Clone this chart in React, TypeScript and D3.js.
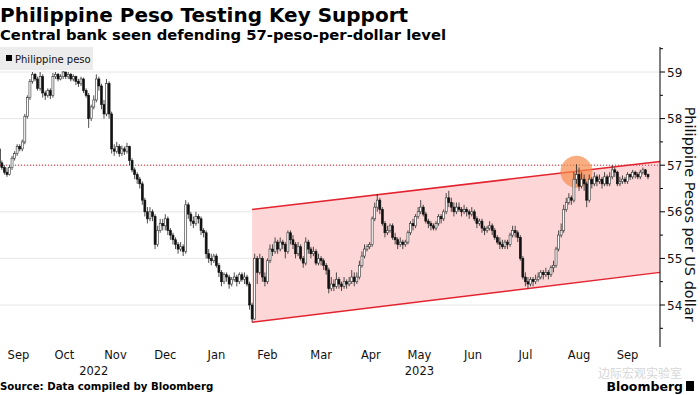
import React, { useEffect } from "react";
import * as d3 from "d3";

// ---- Data (USD/PHP daily candles) ----
const monthLabels = ["Sep", "Oct", "Nov", "Dec", "Jan", "Feb", "Mar", "Apr", "May", "Jun", "Jul", "Aug", "Sep"];
const tradingDays = [16, 20, 20, 19, 21, 19, 23, 16, 22, 20, 21, 21, 17];
const yearLabels = [
  { label: "2022", fromMonth: 0, toMonth: 4 },
  { label: "2023", fromMonth: 4, toMonth: 13 },
];
const yTicks = [54, 55, 56, 57, 58, 59];
const supportLevel = 57;
const firstOpen = 57.35;

const close = [
  // Sep 2022
  57.05, 56.95, 56.85, 56.8, 56.95, 57.15, 57.25, 57.4, 57.35, 57.5, 58.05, 58.45, 58.8, 58.95, 58.85, 58.65,
  // Oct
  58.9, 58.55, 58.5, 58.6, 58.5, 58.9, 58.95, 58.85, 58.9, 59.0, 58.9, 58.95, 58.85, 58.9, 58.8, 58.75, 58.85, 58.6, 58.5, 58.0,
  // Nov
  58.25, 58.4, 58.85, 58.7, 58.3, 58.1, 58.75, 58.1, 57.35, 57.3, 57.4, 57.25, 57.35, 57.3, 57.4, 57.1, 56.9, 56.8, 56.7, 56.6,
  // Dec
  56.25, 56.0, 55.85, 56.0, 55.9, 55.3, 55.6, 55.75, 55.7, 55.85, 55.6, 55.5, 55.4, 55.3, 55.2, 55.25, 55.15, 56.15, 55.95,
  // Jan 2023
  55.8, 55.75, 55.9, 55.85, 55.6, 55.55, 55.1, 55.0, 54.95, 55.05, 54.85, 54.7, 54.5, 54.65, 54.6, 54.45, 54.55, 54.6, 54.5, 54.65, 54.55,
  // Feb
  54.6, 54.45, 54.0, 53.7, 55.0, 54.7, 55.0, 54.6, 54.5, 54.95, 55.2, 55.15, 55.35, 55.2, 55.35, 55.3, 55.15, 55.55, 55.4,
  // Mar
  55.3, 55.1, 55.25, 55.0, 54.9, 55.35, 55.2, 55.1, 55.15, 54.9, 55.0, 54.95, 54.85, 54.75, 54.35, 54.45, 54.4, 54.55, 54.45, 54.4, 54.5, 54.45, 54.5,
  // Apr
  54.6, 54.5, 54.6, 54.85, 55.05, 55.2, 55.25, 55.3, 55.85, 56.1, 56.25, 56.05, 55.75, 55.55, 55.6, 55.7,
  // May
  55.45, 55.4, 55.3, 55.35, 55.3, 55.35, 55.55, 55.75, 55.7, 55.9, 56.0, 56.1, 55.95, 55.8, 55.75, 55.7, 55.65, 55.75, 55.9, 55.85, 56.0, 56.3,
  // Jun
  56.2, 56.1, 56.0, 56.1, 56.05, 56.0, 56.05, 56.0, 55.95, 56.0, 55.85, 55.75, 55.8, 55.65, 55.6, 55.65, 55.7, 55.6, 55.45, 55.35,
  // Jul
  55.3, 55.25, 55.35, 55.3, 55.5, 55.6, 55.55, 55.45, 55.0, 54.6, 54.5, 54.45, 54.55, 54.5, 54.55, 54.6, 54.7, 54.65, 54.7, 54.65, 54.8,
  // Aug
  54.85, 55.2, 55.5, 55.6, 56.05, 56.2, 56.3, 56.25, 56.7, 56.8, 56.55, 56.7, 56.6, 56.25, 56.7, 56.6, 56.75, 56.65, 56.7, 56.6, 56.75,
  // Sep
  56.6, 56.75, 56.9, 56.85, 56.6, 56.65, 56.7, 56.65, 56.8, 56.75, 56.85, 56.8, 56.75, 56.85, 56.9, 56.8, 56.75,
];

const high = [
  57.4, 57.1, 57.0, 56.95, 57.0, 57.2, 57.3, 57.45, 57.45, 57.55, 58.1, 58.5, 58.85, 59.0, 58.98, 58.9,
  59.0, 58.95, 58.6, 58.65, 58.65, 58.98, 59.0, 58.98, 58.95, 59.02, 59.0, 59.0, 58.98, 58.95, 58.92, 58.85, 58.9, 58.88, 58.65, 58.55,
  58.3, 58.5, 58.95, 58.9, 58.75, 58.4, 58.85, 58.8, 58.15, 57.45, 57.5, 57.45, 57.42, 57.4, 57.48, 57.42, 57.15, 56.95, 56.85, 56.75,
  56.65, 56.3, 56.1, 56.1, 56.05, 55.95, 55.7, 55.85, 55.85, 55.95, 55.9, 55.65, 55.55, 55.45, 55.35, 55.35, 55.3, 56.25, 56.2,
  56.0, 55.9, 56.0, 55.95, 55.9, 55.65, 55.6, 55.2, 55.1, 55.1, 55.1, 54.9, 54.75, 54.7, 54.7, 54.65, 54.6, 54.7, 54.65, 54.7, 54.7,
  54.7, 54.65, 54.5, 54.05, 55.1, 55.05, 55.1, 55.05, 54.7, 55.0, 55.3, 55.3, 55.45, 55.4, 55.45, 55.4, 55.35, 55.6, 55.6,
  55.5, 55.35, 55.35, 55.3, 55.05, 55.45, 55.4, 55.25, 55.25, 55.2, 55.1, 55.05, 55.0, 54.9, 54.8, 54.6, 54.55, 54.7, 54.6, 54.5, 54.6, 54.55, 54.6,
  54.75, 54.7, 54.7, 54.95, 55.15, 55.3, 55.3, 55.35, 55.9, 56.2, 56.38, 56.3, 56.1, 55.8, 55.7, 55.75,
  55.75, 55.55, 55.45, 55.45, 55.4, 55.4, 55.6, 55.8, 55.85, 55.95, 56.1, 56.25, 56.15, 56.0, 55.85, 55.8, 55.75, 55.8, 55.95, 55.95, 56.05, 56.4,
  56.45, 56.3, 56.2, 56.2, 56.2, 56.1, 56.15, 56.1, 56.05, 56.1, 56.05, 55.9, 55.85, 55.85, 55.7, 55.7, 55.8, 55.75, 55.65, 55.5,
  55.45, 55.4, 55.4, 55.4, 55.55, 55.7, 55.7, 55.6, 55.5, 55.05, 54.7, 54.6, 54.6, 54.6, 54.65, 54.7, 54.75, 54.75, 54.8, 54.75, 54.85,
  54.95, 55.25, 55.6, 55.75, 56.15, 56.3, 56.4, 56.35, 56.85, 57.02, 56.95, 56.85, 56.8, 56.65, 56.8, 56.75, 56.85, 56.8, 56.8, 56.75, 56.85,
  56.8, 56.85, 57.0, 56.95, 56.88, 56.75, 56.78, 56.75, 56.85, 56.82, 56.9, 56.88, 56.85, 56.9, 56.95, 56.92, 56.82,
];

const low = [
  57.0, 56.9, 56.8, 56.75, 56.78, 56.9, 57.1, 57.2, 57.3, 57.3, 57.45, 58.0, 58.4, 58.75, 58.8, 58.6,
  58.6, 58.45, 58.4, 58.45, 58.42, 58.45, 58.85, 58.8, 58.82, 58.85, 58.85, 58.85, 58.8, 58.8, 58.72, 58.68, 58.7, 58.55, 58.45, 57.8,
  57.95, 58.2, 58.35, 58.6, 58.2, 58.0, 58.05, 58.0, 57.25, 57.2, 57.25, 57.18, 57.2, 57.22, 57.25, 57.0, 56.85, 56.7, 56.6, 56.5,
  56.15, 55.9, 55.75, 55.8, 55.8, 55.2, 55.25, 55.55, 55.6, 55.6, 55.5, 55.4, 55.3, 55.2, 55.1, 55.15, 55.05, 55.1, 55.85,
  55.7, 55.65, 55.7, 55.75, 55.5, 55.45, 55.0, 54.9, 54.85, 54.9, 54.8, 54.6, 54.4, 54.45, 54.5, 54.35, 54.4, 54.5, 54.4, 54.45, 54.5,
  54.45, 54.4, 53.9, 53.63, 53.68, 54.45, 54.65, 54.5, 54.4, 54.45, 54.9, 55.05, 55.1, 55.1, 55.15, 55.2, 55.0, 55.1, 55.3,
  55.2, 55.0, 55.05, 54.95, 54.8, 54.85, 55.1, 55.0, 55.05, 54.85, 54.85, 54.85, 54.75, 54.65, 54.25, 54.3, 54.3, 54.35, 54.35, 54.3, 54.35, 54.35, 54.4,
  54.45, 54.4, 54.45, 54.55, 54.8, 55.0, 55.15, 55.2, 55.25, 55.8, 56.0, 55.95, 55.7, 55.45, 55.5, 55.55,
  55.4, 55.3, 55.2, 55.25, 55.2, 55.25, 55.3, 55.5, 55.6, 55.65, 55.85, 55.95, 55.9, 55.75, 55.65, 55.6, 55.6, 55.6, 55.7, 55.75, 55.8, 55.95,
  56.1, 56.0, 55.9, 55.95, 56.0, 55.9, 55.95, 55.9, 55.85, 55.9, 55.8, 55.65, 55.7, 55.55, 55.5, 55.55, 55.6, 55.5, 55.4, 55.3,
  55.2, 55.2, 55.2, 55.2, 55.25, 55.45, 55.45, 55.35, 54.95, 54.55, 54.4, 54.35, 54.4, 54.4, 54.45, 54.5, 54.55, 54.55, 54.6, 54.55, 54.6,
  54.7, 54.8, 55.15, 55.45, 55.55, 56.0, 56.15, 56.15, 56.2, 56.6, 56.45, 56.5, 56.45, 56.1, 56.2, 56.5, 56.55, 56.55, 56.6, 56.5, 56.55,
  56.55, 56.55, 56.7, 56.75, 56.55, 56.55, 56.6, 56.6, 56.6, 56.68, 56.7, 56.72, 56.7, 56.7, 56.8, 56.75, 56.7,
];

// Rising channel: drawn from the February low to the right edge
const channelStartIndex = 99;
const channelUpper = [56.05, 57.08];
const channelLower = [53.63, 54.7];
// Highlighted test of the 57 level
const highlightIndex = 226;
const highlightPrice = 56.86;

const W = 700;
const H = 395;
const axisX = 660;
const padDays = 4.2;

export default function App() {
  useEffect(() => {
    document.body.style.margin = "0";
  }, []);

  const n = close.length;
  const x = d3.scaleLinear().domain([0, n + padDays]).range([-2, axisX]);
  const y = d3.scaleLinear().domain([54, 59]).range([305, 72]);

  const monthStarts = d3.cumsum([0, ...tradingDays]);
  const candles = close.map((c, i) => ({
    i,
    o: i === 0 ? firstOpen : close[i - 1],
    c,
    h: high[i],
    l: low[i],
  }));

  const halfTicks = d3.range(53.5, 59.51, 0.5);
  const gridTop = 47;
  const gridBottom = 345;
  const bw = 2.0;
  const font = "'DejaVu Sans', Verdana, sans-serif";

  const xs = x(channelStartIndex + 0.5);
  const xe = x(n + padDays);
  const channelPoly = [
    [xs, y(channelUpper[0])],
    [xe, y(channelUpper[1])],
    [xe, y(channelLower[1])],
    [xs, y(channelLower[0])],
  ];

  return (
    <svg width={W} height={H} style={{ display: "block", background: "#fff" }} fontFamily={font}>
      {/* Title */}
      <text x={0} y={22} fontSize={20} fontWeight="bold" fill="#000">
        Philippine Peso Testing Key Support
      </text>
      <text x={0} y={40} fontSize={14.8} fontWeight="bold" fill="#000">
        Central bank seen defending 57-peso-per-dollar level
      </text>

      {/* Horizontal gridlines */}
      {yTicks.map((t) => (
        <line key={"hg" + t} x1={0} x2={axisX} y1={y(t)} y2={y(t)} stroke="#e6e6e6" strokeWidth={1} />
      ))}
      {/* Vertical month gridlines */}
      {monthStarts.slice(1, tradingDays.length).map((s, k) => (
        <line key={"vg" + k} x1={x(s)} x2={x(s)} y1={gridTop} y2={gridBottom} stroke="#e6e6e6" strokeWidth={1} />
      ))}

      {/* Legend */}
      <rect x={0} y={47} width={93} height={23} fill="#ececec" />
      <rect x={6} y={55} width={6} height={6} fill="#000" />
      <text x={15} y={62.5} fontSize={10} fill="#111">
        Philippine peso
      </text>

      {/* Channel */}
      <polygon points={channelPoly.map((p) => p.join(",")).join(" ")} fill="#fdd7d7" />
      <line x1={xs} y1={y(channelUpper[0])} x2={xe} y2={y(channelUpper[1])} stroke="#e3232f" strokeWidth={1.5} />
      <line x1={xs} y1={y(channelLower[0])} x2={xe} y2={y(channelLower[1])} stroke="#e3232f" strokeWidth={1.5} />

      {/* 57 support dotted line */}
      <line
        x1={0}
        x2={axisX}
        y1={y(supportLevel)}
        y2={y(supportLevel)}
        stroke="#e3232f"
        strokeWidth={1}
        strokeDasharray="1,2"
      />

      {/* Highlight circle */}
      <circle cx={x(highlightIndex + 0.5)} cy={y(highlightPrice)} r={16} fill="#f58c4c" fillOpacity={0.7} />

      {/* Candles */}
      {candles.map((d) => {
        const cx = x(d.i + 0.5);
        const up = d.c >= d.o;
        const top = y(Math.max(d.o, d.c));
        const bot = y(Math.min(d.o, d.c));
        return (
          <g key={"c" + d.i}>
            <line x1={cx} x2={cx} y1={y(d.h)} y2={y(d.l)} stroke="#222" strokeWidth={0.8} />
            <rect
              x={cx - bw / 2}
              y={top}
              width={bw}
              height={Math.max(0.8, bot - top)}
              fill={up ? "#fff" : "#111"}
              stroke={up ? "#333" : "#111"}
              strokeWidth={0.6}
            />
          </g>
        );
      })}

      {/* Right axis */}
      <line x1={axisX} x2={axisX} y1={gridTop} y2={gridBottom + 2} stroke="#000" strokeWidth={1} />
      {halfTicks.map((t) => (
        <line
          key={"yt" + t}
          x1={axisX}
          x2={axisX + (Number.isInteger(t) ? 5 : 3)}
          y1={y(t)}
          y2={y(t)}
          stroke="#000"
          strokeWidth={1}
        />
      ))}
      {yTicks.map((t) => (
        <text key={"yl" + t} x={axisX + 7} y={y(t) + 4.5} fontSize={12} fill="#111">
          {t}
        </text>
      ))}
      <text
        transform={`translate(${685},${y(55.95)}) rotate(90)`}
        fontSize={14.5}
        fill="#111"
        textAnchor="middle"
      >
        Philippine Pesos per US dollar
      </text>

      {/* Month labels */}
      {monthLabels.map((m, k) => {
        const a = monthStarts[k];
        const b = monthStarts[k + 1];
        return (
          <text key={"ml" + k} x={x((a + b) / 2)} y={359} fontSize={11.5} fill="#111" textAnchor="middle">
            {m}
          </text>
        );
      })}
      {yearLabels.map((yl) => (
        <text
          key={yl.label}
          x={x((monthStarts[yl.fromMonth] + monthStarts[Math.min(yl.toMonth, tradingDays.length)]) / 2)}
          y={375}
          fontSize={11.5}
          fill="#111"
          textAnchor="middle"
        >
          {yl.label}
        </text>
      ))}

      {/* Footer */}
      <text x={0} y={390} fontSize={10.2} fontWeight="bold" fill="#000">
        Source: Data compiled by Bloomberg
      </text>
      <text x={598} y={377.5} fontSize={12} fill="#d6d6d6" fontFamily="'Noto Sans CJK SC', sans-serif">
        边际宏观实验室
      </text>
      <text x={683} y={391} fontSize={12.5} fontWeight="bold" fill="#000" textAnchor="end">
        Bloomberg
      </text>
      <rect x={686} y={381} width={8} height={10} fill="#000" />
    </svg>
  );
}
